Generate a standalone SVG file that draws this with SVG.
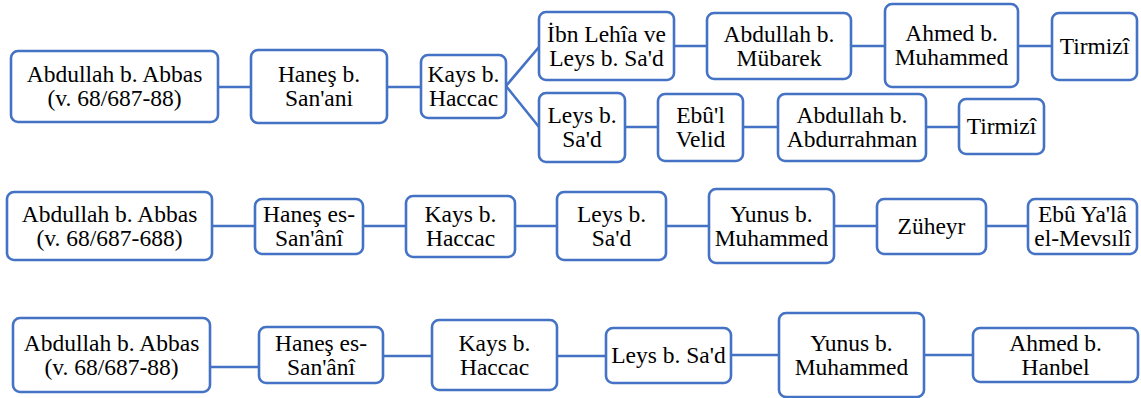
<svg xmlns="http://www.w3.org/2000/svg" width="1141" height="398" viewBox="0 0 1141 398">
<rect width="1141" height="398" fill="#fff"/>
<g id="connectors" stroke="#4472C4" stroke-width="2.6">
<line x1="218" y1="87" x2="251" y2="87"/>
<line x1="387" y1="87" x2="421" y2="87"/>
<line x1="506" y1="86" x2="539" y2="47"/>
<line x1="506" y1="86" x2="539" y2="127"/>
<line x1="674" y1="46" x2="707" y2="46"/>
<line x1="851" y1="46" x2="885" y2="46"/>
<line x1="1018" y1="46" x2="1052" y2="46"/>
<line x1="625" y1="127" x2="658" y2="127"/>
<line x1="743" y1="127" x2="778" y2="127"/>
<line x1="926" y1="127" x2="959" y2="127"/>
<line x1="212" y1="226" x2="255" y2="226"/>
<line x1="363" y1="226" x2="406" y2="226"/>
<line x1="515" y1="226" x2="557" y2="226"/>
<line x1="666" y1="226" x2="709" y2="226"/>
<line x1="834" y1="226" x2="877" y2="226"/>
<line x1="986" y1="226" x2="1028" y2="226"/>
<line x1="210" y1="367" x2="259" y2="367"/>
<line x1="383" y1="356" x2="432" y2="356"/>
<line x1="557" y1="356" x2="606" y2="356"/>
<line x1="731" y1="355" x2="779" y2="355"/>
<line x1="924" y1="355" x2="973" y2="355"/>
</g>
<g id="boxes" fill="#fff" stroke="#4472C4" stroke-width="2.6">
<rect id="b-r1-abdullah" x="11" y="51" width="207" height="71" rx="7"/>
<rect id="b-r1-hanes" x="251" y="50" width="136" height="73" rx="7"/>
<rect id="b-r1-kays" x="421" y="55" width="85" height="63" rx="7"/>
<rect id="b-r1-ibnlehia" x="539" y="12" width="135" height="68" rx="7"/>
<rect id="b-r1-mubarek" x="707" y="13" width="144" height="66" rx="7"/>
<rect id="b-r1-ahmed" x="885" y="4" width="133" height="83" rx="7"/>
<rect id="b-r1-tirmizi1" x="1052" y="13" width="85" height="67" rx="7"/>
<rect id="b-r1-leys" x="539" y="93" width="86" height="69" rx="7"/>
<rect id="b-r1-ebulvelid" x="658" y="94" width="85" height="67" rx="7"/>
<rect id="b-r1-abdurrahman" x="778" y="94" width="148" height="67" rx="7"/>
<rect id="b-r1-tirmizi2" x="959" y="99" width="85" height="55" rx="7"/>
<rect id="b-r2-abdullah" x="7" y="192" width="205" height="68" rx="7"/>
<rect id="b-r2-hanes" x="255" y="199" width="108" height="55" rx="7"/>
<rect id="b-r2-kays" x="406" y="196" width="109" height="61" rx="7"/>
<rect id="b-r2-leys" x="557" y="192" width="109" height="68" rx="7"/>
<rect id="b-r2-yunus" x="709" y="189" width="125" height="74" rx="7"/>
<rect id="b-r2-zuheyr" x="877" y="199" width="109" height="55" rx="7"/>
<rect id="b-r2-ebuyala" x="1028" y="199" width="109" height="55" rx="7"/>
<rect id="b-r3-abdullah" x="13" y="318" width="197" height="74" rx="7"/>
<rect id="b-r3-hanes" x="259" y="327" width="124" height="56" rx="7"/>
<rect id="b-r3-kays" x="432" y="320" width="125" height="70" rx="7"/>
<rect id="b-r3-leys" x="606" y="328" width="125" height="55" rx="7"/>
<rect id="b-r3-yunus" x="779" y="313" width="145" height="84" rx="7"/>
<rect id="b-r3-ahmed" x="973" y="328" width="165" height="54" rx="7"/>
</g>
<g id="labels" font-size="23.5px" text-anchor="middle" fill="#000">
<g id="r1-abdullah"><text font-family="Liberation Serif" x="114.5" y="82.3">Abdullah b. Abbas</text><text font-family="Liberation Serif" x="114.5" y="106.3">(v. 68/687-88)</text></g>
<g id="r1-hanes"><text font-family="Liberation Serif" x="319" y="82.3">Haneş b.</text><text font-family="Liberation Serif" x="319" y="106.3">San'ani</text></g>
<g id="r1-kays"><text font-family="Liberation Serif" x="463.5" y="82.3">Kays b.</text><text font-family="Liberation Serif" x="463.5" y="106.3">Haccac</text></g>
<g id="r1-ibnlehia"><text font-family="Liberation Serif" x="606.5" y="41.8">İbn Lehîa ve</text><text font-family="Liberation Serif" x="606.5" y="65.8">Leys b. Sa'd</text></g>
<g id="r1-mubarek"><text font-family="Liberation Serif" x="779" y="41.8">Abdullah b.</text><text font-family="Liberation Serif" x="779" y="65.8">Mübarek</text></g>
<g id="r1-ahmed"><text font-family="Liberation Serif" x="951.5" y="41.3">Ahmed b.</text><text font-family="Liberation Serif" x="951.5" y="65.3">Muhammed</text></g>
<g id="r1-tirmizi1"><text font-family="Liberation Serif" x="1094.5" y="54.3">Tirmizî</text></g>
<g id="r1-leys"><text font-family="Liberation Serif" x="582" y="123.3">Leys b.</text><text font-family="Liberation Serif" x="582" y="147.3">Sa'd</text></g>
<g id="r1-ebulvelid"><text font-family="Liberation Serif" x="700.5" y="123.3">Ebû'l</text><text font-family="Liberation Serif" x="700.5" y="147.3">Velid</text></g>
<g id="r1-abdurrahman"><text font-family="Liberation Serif" x="852" y="123.3">Abdullah b.</text><text font-family="Liberation Serif" x="852" y="147.3">Abdurrahman</text></g>
<g id="r1-tirmizi2"><text font-family="Liberation Serif" x="1001.5" y="134.3">Tirmizî</text></g>
<g id="r2-abdullah"><text font-family="Liberation Serif" x="109.5" y="221.8">Abdullah b. Abbas</text><text font-family="Liberation Serif" x="109.5" y="245.8">(v. 68/687-688)</text></g>
<g id="r2-hanes"><text font-family="Liberation Serif" x="309" y="222.3">Haneş es-</text><text font-family="Liberation Serif" x="309" y="246.3">San'ânî</text></g>
<g id="r2-kays"><text font-family="Liberation Serif" x="460.5" y="222.3">Kays b.</text><text font-family="Liberation Serif" x="460.5" y="246.3">Haccac</text></g>
<g id="r2-leys"><text font-family="Liberation Serif" x="611.5" y="221.8">Leys b.</text><text font-family="Liberation Serif" x="611.5" y="245.8">Sa'd</text></g>
<g id="r2-yunus"><text font-family="Liberation Serif" x="771.5" y="221.8">Yunus b.</text><text font-family="Liberation Serif" x="771.5" y="245.8">Muhammed</text></g>
<g id="r2-zuheyr"><text font-family="Liberation Serif" x="931.5" y="234.3">Züheyr</text></g>
<g id="r2-ebuyala"><text font-family="Liberation Serif" x="1082.5" y="222.3">Ebû Ya'lâ</text><text font-family="Liberation Serif" x="1082.5" y="246.3">el-Mevsılî</text></g>
<g id="r3-abdullah"><text font-family="Liberation Serif" x="111.5" y="350.8">Abdullah b. Abbas</text><text font-family="Liberation Serif" x="111.5" y="374.8">(v. 68/687-88)</text></g>
<g id="r3-hanes"><text font-family="Liberation Serif" x="321" y="350.8">Haneş es-</text><text font-family="Liberation Serif" x="321" y="374.8">San'ânî</text></g>
<g id="r3-kays"><text font-family="Liberation Serif" x="494.5" y="350.8">Kays b.</text><text font-family="Liberation Serif" x="494.5" y="374.8">Haccac</text></g>
<g id="r3-leys"><text font-family="Liberation Serif" x="668.5" y="363.3">Leys b. Sa'd</text></g>
<g id="r3-yunus"><text font-family="Liberation Serif" x="851.5" y="350.8">Yunus b.</text><text font-family="Liberation Serif" x="851.5" y="374.8">Muhammed</text></g>
<g id="r3-ahmed"><text font-family="Liberation Serif" x="1055.5" y="350.8">Ahmed b.</text><text font-family="Liberation Serif" x="1055.5" y="374.8">Hanbel</text></g>
</g>
</svg>
